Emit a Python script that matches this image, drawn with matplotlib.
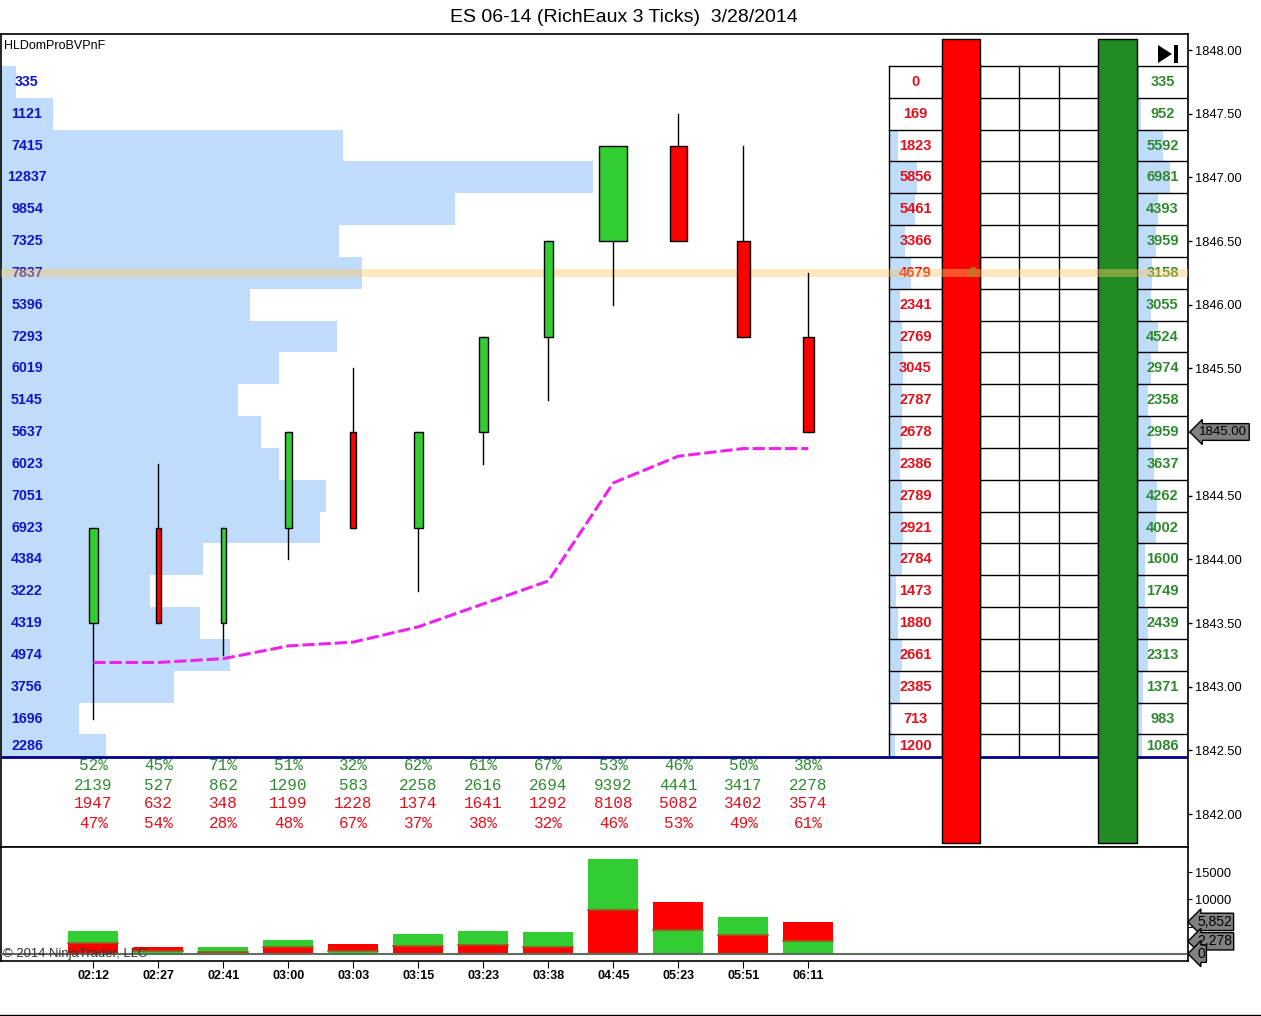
import matplotlib

matplotlib.use("Agg")

import matplotlib.pyplot as plt
import matplotlib.transforms as mtransforms
from matplotlib.lines import Line2D
from matplotlib.patches import Polygon, Rectangle

plt.rcParams["font.family"] = ["Liberation Sans", "DejaVu Sans"]

# ---- data --------------------------------------------------------------------
times = ["02:12", "02:27", "02:41", "03:00", "03:03", "03:15",
         "03:23", "03:38", "04:45", "05:23", "05:51", "06:11"]
opens = [1843.50, 1844.25, 1843.50, 1844.25, 1845.00, 1844.25,
         1845.00, 1845.75, 1846.50, 1847.25, 1846.50, 1845.75]
highs = [1844.25, 1844.75, 1844.25, 1845.00, 1845.50, 1845.00,
         1845.75, 1846.50, 1847.25, 1847.50, 1847.25, 1846.25]
lows = [1842.75, 1843.50, 1843.25, 1844.00, 1844.25, 1843.75,
        1844.75, 1845.25, 1846.00, 1846.50, 1845.75, 1845.00]
closes = [1844.25, 1843.50, 1844.25, 1845.00, 1844.25, 1845.00,
          1845.75, 1846.50, 1847.25, 1846.50, 1845.75, 1845.00]
vwap = [1843.19, 1843.19, 1843.22, 1843.32, 1843.35, 1843.47,
        1843.65, 1843.83, 1844.60, 1844.81, 1844.87, 1844.87]
buy_vol = [2139, 527, 862, 1290, 583, 2258, 2616, 2694, 9392, 4441, 3417, 2278]
sell_vol = [1947, 632, 348, 1199, 1228, 1374, 1641, 1292, 8108, 5082, 3402, 3574]
buy_pct = [52, 45, 71, 51, 32, 62, 61, 67, 53, 46, 50, 38]
sell_pct = [47, 54, 28, 48, 67, 37, 38, 32, 46, 53, 49, 61]

row_prices = [1847.75, 1847.50, 1847.25, 1847.00, 1846.75, 1846.50, 1846.25, 1846.00,
              1845.75, 1845.50, 1845.25, 1845.00, 1844.75, 1844.50, 1844.25, 1844.00,
              1843.75, 1843.50, 1843.25, 1843.00, 1842.75, 1842.50]
profile_vol = [335, 1121, 7415, 12837, 9854, 7325, 7837, 5396, 7293, 6019, 5145,
               5637, 6023, 7051, 6923, 4384, 3222, 4319, 4974, 3756, 1696, 2286]
bid_vol = [0, 169, 1823, 5856, 5461, 3366, 4679, 2341, 2769, 3045, 2787,
           2678, 2386, 2789, 2921, 2784, 1473, 1880, 2661, 2385, 713, 1200]
ask_vol = [335, 952, 5592, 6981, 4393, 3959, 3158, 3055, 4524, 2974, 2358,
           2959, 3637, 4262, 4002, 1600, 1749, 2439, 2313, 1371, 983, 1086]
price_ticks = [1842.0, 1842.5, 1843.0, 1843.5, 1844.0, 1844.5, 1845.0,
               1845.5, 1846.0, 1846.5, 1847.0, 1847.5, 1848.0]
vol_ticks = [5000, 10000, 15000]
highlight_price = 1846.25
highlight_text = "6"

# ---- colours -----------------------------------------------------------------
GREEN = "#32cd32"
RED = "#ff0000"
DARK_GREEN = "#228b22"
PROFILE = "#bfdcfa"
TEXT_BLUE = "#1414c8"
TEXT_RED = "#e3101c"
TEXT_GREEN = "#2f8a2f"
MARKER = dict(fc="#808080", ec="black", lw=1)

# ---- pixel layout ------------------------------------------------------------
W, H = 1261, 1016
LEFT, RIGHT = 1, 1188
TOP, SPLIT, BOTTOM = 34, 847, 960.5
SLOT_PX, FIRST_PX = 65.0, 93.3
TICK = 0.25


def fig_rect(left, top, right, bottom):
    return [left / W, 1 - bottom / H, (right - left) / W, (bottom - top) / H]


def fx(px):
    return (px - LEFT) / (RIGHT - LEFT)


def fy(py):
    return (SPLIT - py) / (SPLIT - TOP)


fig = plt.figure(figsize=(W / 100, H / 100), dpi=100, facecolor="white")
ax = fig.add_axes(fig_rect(LEFT, TOP, RIGHT, SPLIT))
vax = fig.add_axes(fig_rect(LEFT, SPLIT, RIGHT, BOTTOM))

px_per_pt = 764 / 6.0
y_top = 1848.0 + (50 - TOP) / px_per_pt
y_bot = 1848.0 - (SPLIT - 50) / px_per_pt
ax.set_ylim(y_bot, y_top)
xlim = ((LEFT - FIRST_PX) / SLOT_PX, (RIGHT - FIRST_PX) / SLOT_PX)
ax.set_xlim(*xlim)
vax.set_xlim(*xlim)

floor_price = 1848.0 - (757 - 50) / px_per_pt
xa_yd = mtransforms.blended_transform_factory(ax.transAxes, ax.transData)
xd_ya = mtransforms.blended_transform_factory(ax.transData, ax.transAxes)

# ---- volume profile ----------------------------------------------------------
prof_frac = fx(593)
vmax = max(profile_vol)
for price, vol in zip(row_prices, profile_vol):
    top = price + TICK / 2
    bot = max(price - TICK / 2, floor_price)
    ax.add_patch(Rectangle((0, bot), vol / vmax * prof_frac, top - bot,
                           transform=xa_yd, fc=PROFILE, ec="none", zorder=1))
    ax.text(fx(27), (top + bot) / 2, str(vol), transform=xa_yd, ha="center",
            va="center", fontsize=10.3, fontweight="bold", color=TEXT_BLUE, zorder=2)

# ---- DOM ladder --------------------------------------------------------------
col_edges = [889, 942, 980, 1019, 1059, 1098, 1137, 1188]
dom_k = 0.0047  # px per contract
table_top = row_prices[0] + TICK / 2
for price, bid, ask in zip(row_prices, bid_vol, ask_vol):
    top = price + TICK / 2
    bot = max(price - TICK / 2, floor_price)
    mid = (top + bot) / 2
    ax.add_patch(Rectangle((fx(889), bot), fx(889 + bid * dom_k) - fx(889), top - bot,
                           transform=xa_yd, fc=PROFILE, ec="none", zorder=2))
    ax.add_patch(Rectangle((fx(1137), bot), fx(1137 + ask * dom_k) - fx(1137), top - bot,
                           transform=xa_yd, fc=PROFILE, ec="none", zorder=2))
    ax.text(fx(915.5), mid, str(bid), transform=xa_yd, ha="center", va="center",
            fontsize=10.5, fontweight="bold", color=TEXT_RED, zorder=3)
    ax.text(fx(1162.5), mid, str(ask), transform=xa_yd, ha="center", va="center",
            fontsize=10.5, fontweight="bold", color=TEXT_GREEN, zorder=3)
    ax.plot([fx(889), fx(1188)], [top, top], transform=xa_yd, color="black",
            lw=1, zorder=2.5)
for edge in col_edges:
    ax.plot([fx(edge), fx(edge)], [floor_price, table_top], transform=xa_yd,
            color="black", lw=1, zorder=2.5)

ax.axhline(floor_price, color="#00008b", lw=2, zorder=3.5)

for left, right, colour in ((942, 980, RED), (1098, 1137, DARK_GREEN)):
    ax.add_patch(Rectangle((fx(left), fy(843)), fx(right) - fx(left), fy(39) - fy(843),
                           transform=ax.transAxes, fc=colour, ec="black", lw=1, zorder=4))

# highlighted price row
band = 4.3 / px_per_pt
ax.axhspan(highlight_price - band, highlight_price + band, color="#ffc864",
           alpha=0.42, lw=0, zorder=5)
ax.text(fx(973), highlight_price, highlight_text, transform=xa_yd, ha="center",
        va="center", fontsize=10.5, fontweight="bold", color="#9c8c22", zorder=5.5)

# ---- candles -----------------------------------------------------------------
for i, (o, h, l, c) in enumerate(zip(opens, highs, lows, closes)):
    total = buy_vol[i] + sell_vol[i]
    width = (3.5 + 0.00138 * total) / SLOT_PX
    ax.plot([i, i], [l, h], color="black", lw=1, zorder=6)
    ax.add_patch(Rectangle((i - width / 2, min(o, c)), width, abs(c - o),
                           fc=GREEN if c > o else RED, ec="black", lw=1, zorder=7))

ax.plot(range(len(vwap)), vwap, color="#ee22ee", lw=2.2, ls=(0, (4, 1.3)), zorder=8)

# ---- bar statistics under the ladder ---------------------------------------
stat_rows = [
    ([f"{p}%" for p in buy_pct], TEXT_GREEN, 766),
    ([str(v) for v in buy_vol], TEXT_GREEN, 785),
    ([str(v) for v in sell_vol], TEXT_RED, 804),
    ([f"{p}%" for p in sell_pct], TEXT_RED, 823),
]
for labels, colour, py in stat_rows:
    for i, label in enumerate(labels):
        ax.text(i, fy(py), label, transform=xd_ya, ha="center", va="center",
                fontsize=11.5, family="Liberation Mono", color=colour, zorder=6)

# ---- main-panel chrome -------------------------------------------------------
last = closes[-1]
ax.yaxis.tick_right()
ax.set_yticks(price_ticks)
# the last-price marker sits where this tick's label would be
ax.set_yticklabels(["" if p == last else f"{p:.2f}" for p in price_ticks])
ax.tick_params(axis="y", direction="out", length=3, width=1, pad=2, labelsize=9.3)
ax.tick_params(axis="x", bottom=False, labelbottom=False)
for spine in ax.spines.values():
    spine.set_linewidth(1.2)

ax.annotate(f"{last:.2f}", xy=(1, last), xycoords=xa_yd,
            xytext=(7.8, 0), textcoords="offset points", ha="left", va="center",
            fontsize=9.5, annotation_clip=False, zorder=10,
            bbox=dict(boxstyle="larrow,pad=0.18", **MARKER))

ax.add_patch(Polygon([(fx(1158), fy(45)), (fx(1158), fy(63)), (fx(1172), fy(54))],
                     closed=True, transform=ax.transAxes, fc="black", ec="none", zorder=9))
ax.add_patch(Rectangle((fx(1174), fy(63)), fx(1178) - fx(1174), fy(45) - fy(63),
                       transform=ax.transAxes, fc="black", ec="none", zorder=9))
ax.text(fx(4), fy(46), "HLDomProBVPnF", transform=ax.transAxes, ha="left",
        va="center", fontsize=9, color="black", zorder=9)

fig.text(624 / W, 1 - 17 / H, "ES 06-14 (RichEaux 3 Ticks)  3/28/2014",
         ha="center", va="center", fontsize=14)

# ---- volume panel ------------------------------------------------------------
vpx = 54.4 / 10000
vax.set_ylim(-(BOTTOM - 953.7) / vpx, (953.7 - SPLIT) / vpx)
bar_w = 50 / SLOT_PX
for i, (b, s) in enumerate(zip(buy_vol, sell_vol)):
    small, large = min(b, s), max(b, s)
    low_col, high_col = (GREEN, RED) if b <= s else (RED, GREEN)
    vax.bar(i, small, bar_w, color=low_col, zorder=2)
    vax.bar(i, large, bar_w, bottom=small, color=high_col, zorder=2)
    vax.plot([i - bar_w / 2, i + bar_w / 2], [small, small], color="#9a5a1e",
             lw=1.2, zorder=3)
vax.axhline(0, color="#5f6f5f", lw=1.5, zorder=4)

vax.yaxis.tick_right()
vax.set_yticks(vol_ticks)
vax.set_yticklabels([str(v) for v in vol_ticks])
vax.tick_params(axis="y", direction="out", length=3, pad=2, labelsize=9.3)
vax.set_xticks(range(len(times)))
vax.set_xticklabels(times, fontweight="bold")
vax.tick_params(axis="x", direction="out", length=5, pad=2, labelsize=9)
for spine in vax.spines.values():
    spine.set_linewidth(1.2)

v_yd = mtransforms.blended_transform_factory(vax.transAxes, vax.transData)
last_total = buy_vol[-1] + sell_vol[-1]
for value in (last_total, min(buy_vol[-1], sell_vol[-1]), 0):
    vax.annotate(f"{value:,}", xy=(1, value), xycoords=v_yd, xytext=(6.5, 0),
                 textcoords="offset points", ha="left", va="center", fontsize=10,
                 annotation_clip=False, zorder=10,
                 bbox=dict(boxstyle="larrow,pad=0.12", **MARKER))
vax.text(fx(3), 0, "\u00a9 2014 NinjaTrader, LLC", transform=v_yd, ha="left",
         va="center", fontsize=9.4, color="#333333", zorder=5)

fig.add_artist(Line2D([0, 1], [1 - 1015 / H, 1 - 1015 / H], color="black", lw=1))

fig.savefig("out.png", dpi=100, facecolor="white")
